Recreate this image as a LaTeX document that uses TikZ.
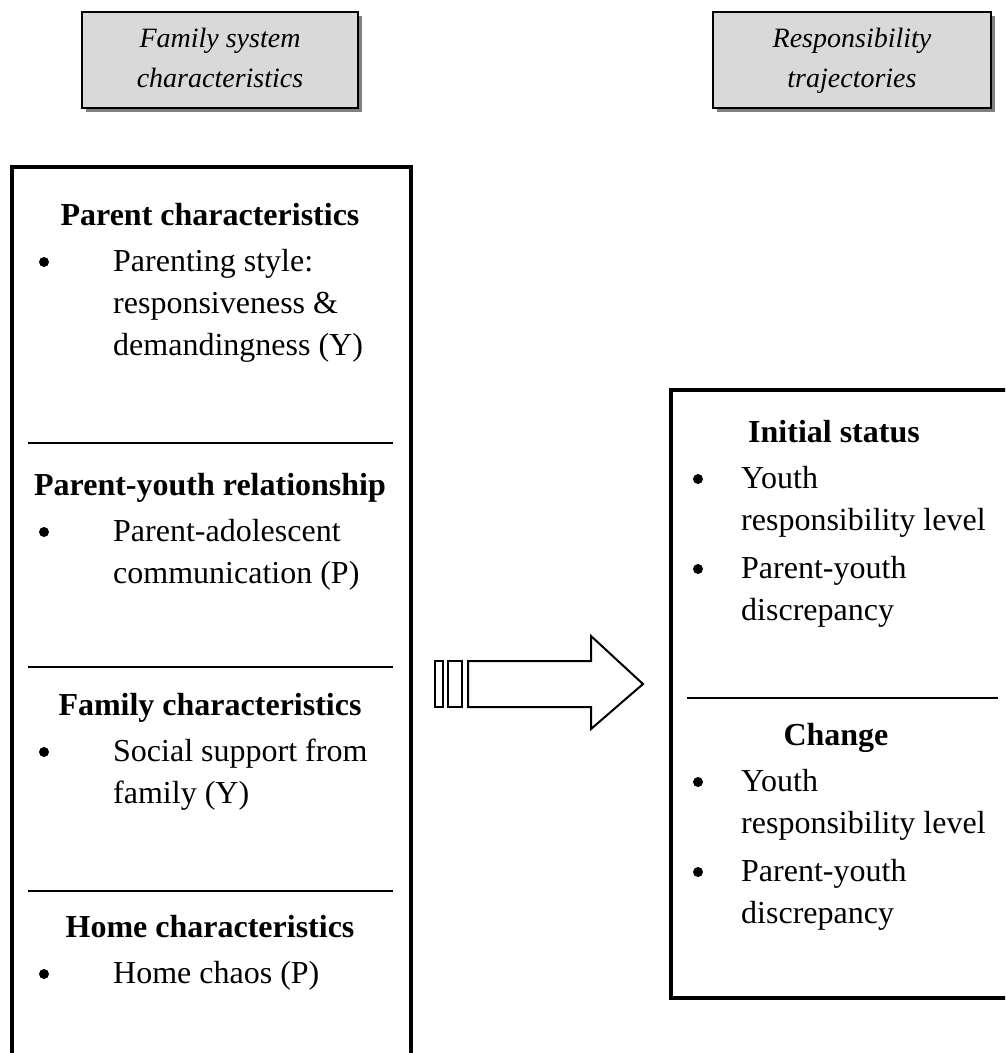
\documentclass[tikz,border=0pt]{standalone}
\usepackage{fontspec}
\setmainfont{Liberation Serif}
\definecolor{boxgray}{RGB}{217,217,217}
\definecolor{shadowgray}{RGB}{128,128,128}
\tikzset{
  topbox/.style={draw=black,line width=1.6pt,fill=boxgray,inner sep=0pt},
  toptext/.style={font=\fontsize{28}{34}\selectfont\itshape,anchor=base,inner sep=0pt},
  frame/.style={draw=black,line width=4pt,inner sep=0pt},
  divider/.style={draw=black,line width=2.2pt},
  head/.style={font=\fontsize{32}{38}\selectfont\bfseries,anchor=base,inner sep=0pt},
  item/.style={font=\fontsize{32}{38}\selectfont,anchor=base west,inner sep=0pt},
  bul/.style={circle,fill=black,draw=none,minimum size=10pt,inner sep=0pt},
  blockarrow/.style={draw=black,line width=2pt,line join=miter}
}
\begin{document}
\begin{tikzpicture}[x=1pt,y=-1pt]
\clip (0,0) rectangle (1005,1053);
\fill[white] (0,0) rectangle (1005,1053);

% top boxes
\fill[shadowgray] (86,16) rectangle (362,112);
\node[topbox,minimum width=276pt,minimum height=96pt] (fsbox) at (220,60) {};
\node[toptext] (fs1) at (220,47) {Family system};
\node[toptext] (fs2) at (220,87) {characteristics};

\fill[shadowgray] (717,16) rectangle (995,112);
\node[topbox,minimum width=278pt,minimum height=96pt] (rtbox) at (852,60) {};
\node[toptext] (rt1) at (852,47) {Responsibility};
\node[toptext] (rt2) at (852,87) {trajectories};

% left frame
\node[frame,anchor=north west,minimum width=399pt,minimum height=930pt] (left) at (10,165) {};
\node[head] (h1) at (210,225) {Parent characteristics};
\node[bul] (b1) at (44,262) {};
\node[item] (t1a) at (113,271) {Parenting style:};
\node[item] (t1b) at (113,313) {responsiveness \&};
\node[item] (t1c) at (113,355) {demandingness (Y)};
\draw[divider] (28,443) -- (393,443);

\node[head] (h2) at (210,495) {Parent-youth relationship};
\node[bul] (b2) at (44,532) {};
\node[item] (t2a) at (113,541) {Parent-adolescent};
\node[item] (t2b) at (113,583) {communication (P)};
\draw[divider] (28,667) -- (393,667);

\node[head] (h3) at (210,715) {Family characteristics};
\node[bul] (b3) at (44,752) {};
\node[item] (t3a) at (113,761) {Social support from};
\node[item] (t3b) at (113,803) {family (Y)};
\draw[divider] (28,891) -- (393,891);

\node[head] (h4) at (210,937) {Home characteristics};
\node[bul] (b4) at (44,974) {};
\node[item] (t4a) at (113,983) {Home chaos (P)};

% arrow
\draw[blockarrow] (435,661) rectangle (443,707);
\draw[blockarrow] (448,661) rectangle (462,707);
\draw[blockarrow] (468,661) -- (591,661) -- (591,636) -- (643,684) -- (591,729) -- (591,707) -- (468,707) -- cycle;

% right frame
\node[frame,anchor=north west,minimum width=346pt,minimum height=608pt] (right) at (669,388) {};
\node[head] (r1) at (834,442) {Initial status};
\node[bul] (rb1) at (698,479) {};
\node[item] (r1a) at (741,488) {Youth};
\node[item] (r1b) at (741,530) {responsibility level};
\node[bul] (rb2) at (698,569) {};
\node[item] (r1c) at (741,578) {Parent-youth};
\node[item] (r1d) at (741,620) {discrepancy};
\draw[divider] (687,698) -- (998,698);

\node[head] (r2) at (836,745) {Change};
\node[bul] (rb3) at (698,782) {};
\node[item] (r2a) at (741,791) {Youth};
\node[item] (r2b) at (741,833) {responsibility level};
\node[bul] (rb4) at (698,872) {};
\node[item] (r2c) at (741,881) {Parent-youth};
\node[item] (r2d) at (741,923) {discrepancy};
\end{tikzpicture}
\end{document}
